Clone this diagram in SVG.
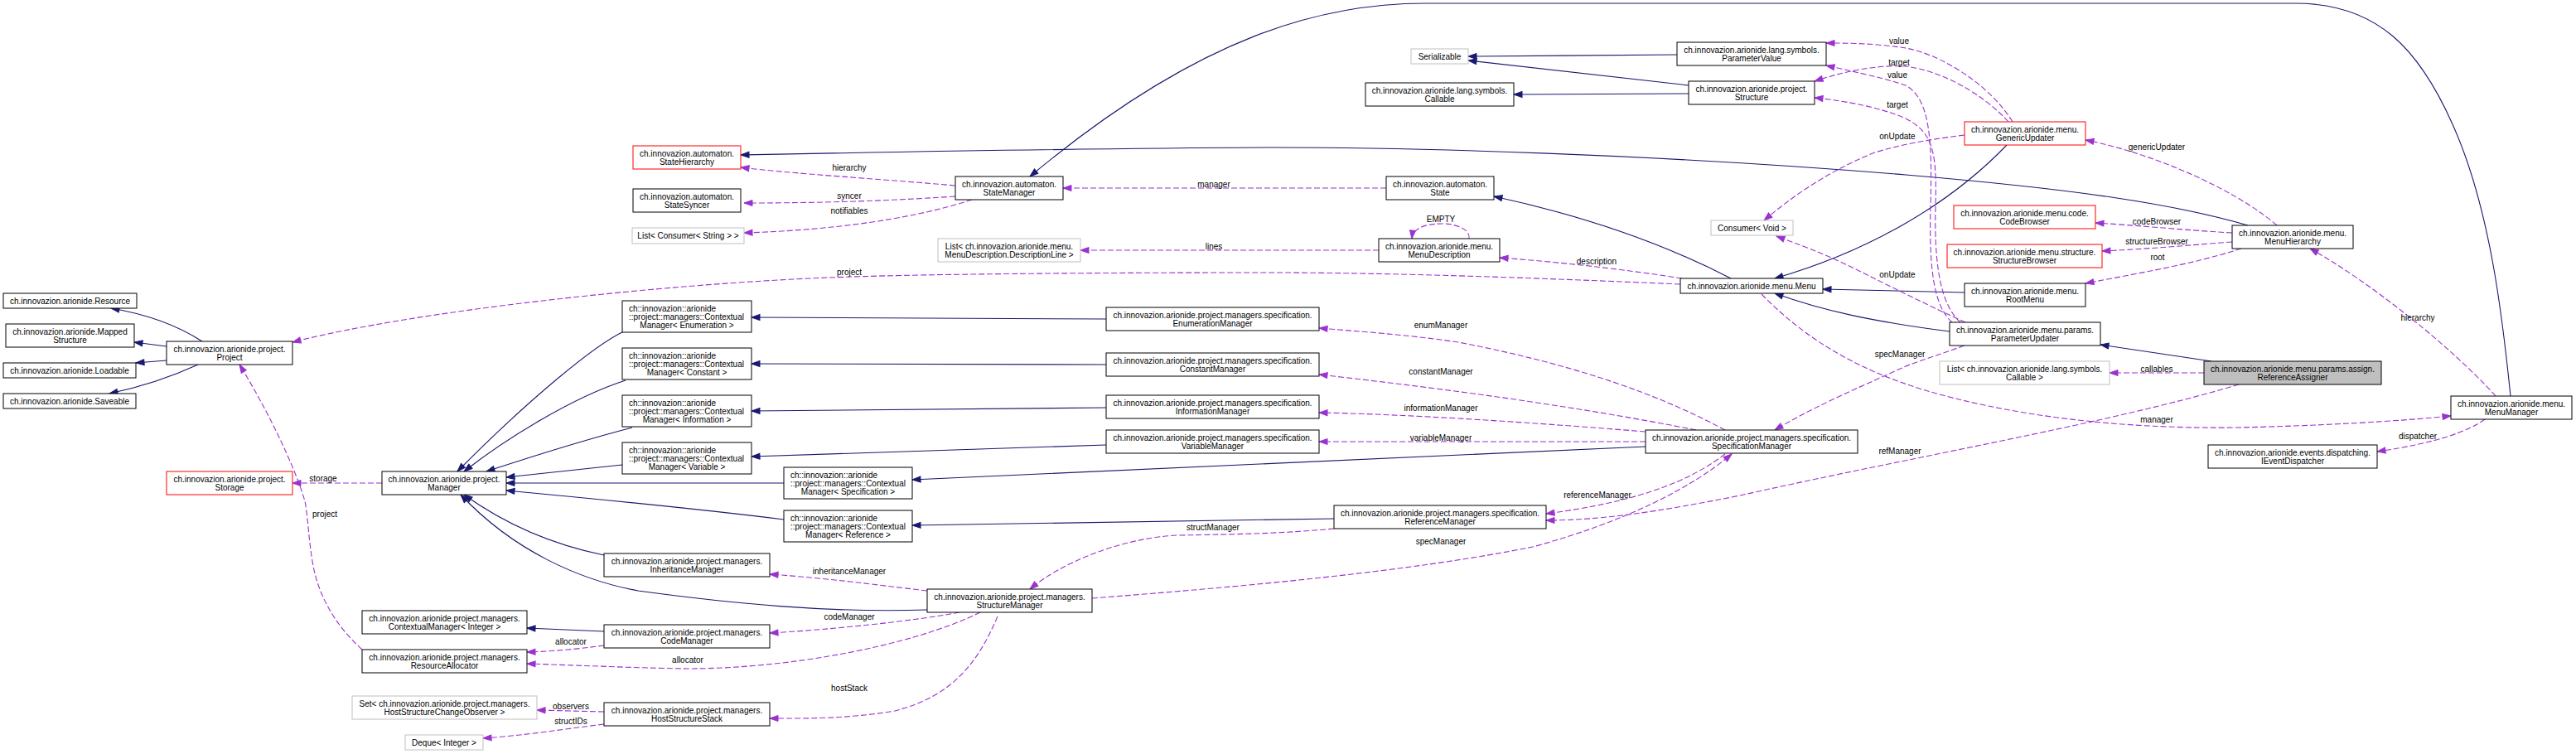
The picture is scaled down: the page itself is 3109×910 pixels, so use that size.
<svg xmlns="http://www.w3.org/2000/svg" width="3109" height="910" viewBox="0 0 3109 910">
<style>
.n rect{fill:#fff;stroke:#000;stroke-width:1}
.n.r rect{stroke:#ff0000}
.n.g rect{stroke:#bfbfbf}
.n.f rect{fill:#bfbfbf;stroke:#000}
text{font-family:"Liberation Sans",Arial,sans-serif;font-size:10px;fill:#000}
.n text{text-anchor:middle}
.n text.l{text-anchor:start}
.e path{fill:none}
.e .s{stroke:#191970;stroke-width:1.1;marker-end:url(#ab)}
.e .d{stroke:#9a32cd;stroke-width:1.1;stroke-dasharray:7,3;marker-end:url(#ap)}
.e text{text-anchor:middle}
</style>
<defs>
<marker id="ab" markerUnits="userSpaceOnUse" markerWidth="12" markerHeight="9" refX="10" refY="3.5" orient="auto" overflow="visible"><path d="M0,0 L10,3.5 L0,7 z" fill="#191970" stroke="#191970"/></marker>
<marker id="ap" markerUnits="userSpaceOnUse" markerWidth="12" markerHeight="9" refX="10" refY="3.5" orient="auto" overflow="visible"><path d="M0,0 L10,3.5 L0,7 z" fill="#9a32cd" stroke="#9a32cd"/></marker>
</defs>
<rect width="3109" height="910" fill="#fff"/>
<g id="edges" class="e">
<path class="s" d="M2024,66 C1950,66 1850,68 1772,68"/>
<path class="s" d="M2038,103 L1772,73"/>
<path class="s" d="M2038,113 L1827,114"/>
<path class="s" d="M3030,478 C3020,380 3005,250 2960,150 C2920,60 2870,4 2770,4 L1720,4 C1600,4 1450,40 1243,213"/>
<path class="s" d="M2089,336 C2000,290 1900,258 1803,237"/>
<path class="s" d="M2422,175 C2350,250 2250,305 2142,336"/>
<path class="s" d="M2713,272 C2620,245 2500,228 2300,211 C2000,186 1700,178 1540,178 C1300,179 1100,183 894,187"/>
<path class="s" d="M2371,353 C2300,351 2250,350 2200,349"/>
<path class="s" d="M2353,400 C2260,388 2200,375 2142,354"/>
<path class="s" d="M2669,436 L2535,416"/>
<path class="s" d="M1335,385 L907,383"/>
<path class="s" d="M1335,440 L907,439"/>
<path class="s" d="M1335,492 L907,496"/>
<path class="s" d="M1335,537 L907,551"/>
<path class="s" d="M1986,539 L1101,579"/>
<path class="s" d="M1610,626 L1101,634"/>
<path class="s" d="M753,400 C720,415 640,480 552,569"/>
<path class="s" d="M755,459 C690,480 610,530 560,569"/>
<path class="s" d="M763,516 C690,535 630,555 587,569"/>
<path class="s" d="M751,561 L611,576"/>
<path class="s" d="M946,583 L611,583"/>
<path class="s" d="M946,627 C850,615 750,605 611,592"/>
<path class="s" d="M729,670 C680,660 620,640 560,597"/>
<path class="s" d="M1119,736 C1000,740 880,728 770,713 C700,700 620,665 556,597"/>
<path class="s" d="M729,762 L636,758"/>
<path class="s" d="M244,412 C210,390 170,378 134,372"/>
<path class="s" d="M201,418 L162,413"/>
<path class="s" d="M201,435 L164,438"/>
<path class="s" d="M239,440 C200,458 165,468 132,475"/>
<path class="d" d="M2660,450 L2546,450"/>
<text x="2603" y="449">callables</text>
<path class="d" d="M2702,464 C2550,510 2300,553 2100,598 C2000,618 1930,628 1866,628"/>
<text x="2293" y="548">refManager</text>
<path class="d" d="M2082,548 C2040,580 1980,605 1866,620"/>
<text x="1928" y="601">referenceManager</text>
<path class="d" d="M1318,722 C1500,708 1700,690 1850,660 C1960,630 2040,590 2090,548"/>
<text x="1739" y="657">specManager</text>
<path class="d" d="M2371,417 C2340,428 2310,438 2300,442 C2250,465 2190,490 2142,519"/>
<text x="2293" y="431">specManager</text>
<path class="d" d="M1673,227 L1283,227"/>
<text x="1465" y="226">manager</text>
<path class="d" d="M1153,224 C1050,215 960,210 894,202"/>
<text x="1025" y="206">hierarchy</text>
<path class="d" d="M1153,237 C1050,244 960,245 898,245"/>
<text x="1025" y="240">syncer</text>
<path class="d" d="M1173,241 C1100,265 1000,278 898,281"/>
<text x="1025" y="258">notifiables</text>
<path class="d" d="M1664,302 L1304,302"/>
<text x="1465" y="301">lines</text>
<path class="d" d="M1773,288 C1775,278 1760,270 1740,270 C1715,270 1705,278 1704,288"/>
<text x="1739" y="268">EMPTY</text>
<path class="d" d="M2030,336 C1960,325 1880,316 1810,311"/>
<text x="1927" y="319">description</text>
<path class="d" d="M2028,343 C1800,333 1650,329 1530,329 C1300,329 1100,331 1000,335 C800,343 500,375 353,413"/>
<text x="1025" y="332">project</text>
<path class="d" d="M2126,355 C2180,410 2240,445 2320,470 C2420,500 2550,518 2700,516 C2800,514 2900,508 2958,502"/>
<text x="2603" y="510">manager</text>
<path class="d" d="M2999,506 C2980,520 2940,535 2869,545"/>
<text x="2918" y="530">dispatcher</text>
<path class="d" d="M3012,478 C2960,420 2860,340 2788,300"/>
<text x="2918" y="387">hierarchy</text>
<path class="d" d="M2705,300 C2650,318 2580,330 2517,342"/>
<text x="2604" y="314">root</text>
<path class="d" d="M2694,292 C2640,296 2600,300 2537,303"/>
<text x="2603" y="295">structureBrowser</text>
<path class="d" d="M2694,281 C2640,278 2580,272 2529,269"/>
<text x="2603" y="271">codeBrowser</text>
<path class="d" d="M2748,272 C2700,230 2600,185 2517,169"/>
<text x="2603" y="181">genericUpdater</text>
<path class="d" d="M2429,147 C2400,100 2340,65 2300,58 C2260,52 2230,52 2204,52"/>
<text x="2292" y="53">value</text>
<path class="d" d="M2424,147 C2390,110 2340,85 2300,80 C2260,78 2220,88 2190,98"/>
<text x="2292" y="79">target</text>
<path class="d" d="M2356,389 C2335,370 2328,330 2330,250 C2332,170 2330,120 2300,103 C2270,93 2230,85 2204,79"/>
<text x="2290" y="94">value</text>
<path class="d" d="M2366,389 C2345,370 2334,330 2336,250 C2338,180 2332,160 2300,143 C2270,130 2230,122 2190,118"/>
<text x="2290" y="130">target</text>
<path class="d" d="M2371,163 C2330,168 2290,175 2260,185 C2200,210 2160,240 2129,266"/>
<text x="2290" y="168">onUpdate</text>
<path class="d" d="M2372,389 C2330,370 2280,345 2240,325 C2200,305 2170,295 2144,285"/>
<text x="2290" y="335">onUpdate</text>
<path class="d" d="M2082,519 C2000,475 1900,440 1760,413 C1700,404 1640,400 1592,396"/>
<text x="1739" y="396">enumManager</text>
<path class="d" d="M2047,519 C1900,490 1750,470 1592,452"/>
<text x="1739" y="452">constantManager</text>
<path class="d" d="M1986,521 C1850,510 1700,500 1592,498"/>
<text x="1739" y="496">informationManager</text>
<path class="d" d="M1986,533 L1592,533"/>
<text x="1739" y="532">variableManager</text>
<path class="d" d="M1119,713 C1050,705 1000,698 929,693"/>
<text x="1025" y="693">inheritanceManager</text>
<path class="d" d="M1158,739 C1100,750 1000,760 929,764"/>
<text x="1025" y="748">codeManager</text>
<path class="d" d="M1183,739 C1100,780 950,807 830,807 C760,806 700,803 636,801"/>
<text x="830" y="800">allocator</text>
<path class="d" d="M1204,744 C1180,800 1150,840 1080,858 C1020,868 970,867 929,867"/>
<text x="1025" y="834">hostStack</text>
<path class="d" d="M1610,638 C1560,643 1500,645 1420,646 C1350,650 1280,680 1243,711"/>
<text x="1464" y="640">structManager</text>
<path class="d" d="M729,779 C700,783 670,786 636,787"/>
<text x="689" y="778">allocator</text>
<path class="d" d="M729,859 L648,857"/>
<text x="689" y="856">observers</text>
<path class="d" d="M729,874 C680,880 630,888 583,891"/>
<text x="689" y="874">structIDs</text>
<path class="d" d="M461,583 L353,583"/>
<text x="390" y="581">storage</text>
<path class="d" d="M437,784 C405,755 385,720 378,683 C372,650 372,625 368,605 C355,560 320,490 289,440"/>
<text x="392" y="624">project</text>
</g>
<g id="StateHierarchy" class="n r"><rect x="764" y="176" width="130" height="28"/><text x="829" y="189">ch.innovazion.automaton.</text><text x="829" y="199">StateHierarchy</text></g>
<g id="StateSyncer" class="n"><rect x="764" y="228" width="130" height="28"/><text x="829" y="241">ch.innovazion.automaton.</text><text x="829" y="251">StateSyncer</text></g>
<g id="ListConsumerString" class="n g"><rect x="763" y="275" width="135" height="19"/><text x="830.5" y="288">List&lt; Consumer&lt; String &gt; &gt;</text></g>
<g id="StateManager" class="n"><rect x="1153" y="213" width="130" height="28"/><text x="1218" y="226">ch.innovazion.automaton.</text><text x="1218" y="236">StateManager</text></g>
<g id="ListDescriptionLine" class="n g"><rect x="1132" y="288" width="172" height="28"/><text x="1218" y="301">List&lt; ch.innovazion.arionide.menu.</text><text x="1218" y="311">MenuDescription.DescriptionLine &gt;</text></g>
<g id="Serializable" class="n g"><rect x="1703" y="59" width="69" height="18"/><text x="1737.5" y="72">Serializable</text></g>
<g id="ParameterValue" class="n"><rect x="2024" y="51" width="180" height="28"/><text x="2114" y="64">ch.innovazion.arionide.lang.symbols.</text><text x="2114" y="74">ParameterValue</text></g>
<g id="Callable" class="n"><rect x="1648" y="100" width="179" height="28"/><text x="1737.5" y="113">ch.innovazion.arionide.lang.symbols.</text><text x="1737.5" y="123">Callable</text></g>
<g id="Structure" class="n"><rect x="2038" y="98" width="152" height="28"/><text x="2114" y="111">ch.innovazion.arionide.project.</text><text x="2114" y="121">Structure</text></g>
<g id="State" class="n"><rect x="1673" y="213" width="130" height="28"/><text x="1738" y="226">ch.innovazion.automaton.</text><text x="1738" y="236">State</text></g>
<g id="ConsumerVoid" class="n g"><rect x="2065" y="266" width="99" height="18"/><text x="2114.5" y="279">Consumer&lt; Void &gt;</text></g>
<g id="MenuDescription" class="n"><rect x="1664" y="288" width="146" height="28"/><text x="1737" y="301">ch.innovazion.arionide.menu.</text><text x="1737" y="311">MenuDescription</text></g>
<g id="GenericUpdater" class="n r"><rect x="2371" y="147" width="146" height="28"/><text x="2444" y="160">ch.innovazion.arionide.menu.</text><text x="2444" y="170">GenericUpdater</text></g>
<g id="CodeBrowser" class="n r"><rect x="2358" y="248" width="171" height="28"/><text x="2443.5" y="261">ch.innovazion.arionide.menu.code.</text><text x="2443.5" y="271">CodeBrowser</text></g>
<g id="MenuHierarchy" class="n"><rect x="2694" y="272" width="146" height="28"/><text x="2767" y="285">ch.innovazion.arionide.menu.</text><text x="2767" y="295">MenuHierarchy</text></g>
<g id="StructureBrowser" class="n r"><rect x="2350" y="295" width="187" height="28"/><text x="2443.5" y="308">ch.innovazion.arionide.menu.structure.</text><text x="2443.5" y="318">StructureBrowser</text></g>
<g id="RootMenu" class="n"><rect x="2371" y="342" width="146" height="28"/><text x="2444" y="355">ch.innovazion.arionide.menu.</text><text x="2444" y="365">RootMenu</text></g>
<g id="ParameterUpdater" class="n"><rect x="2353" y="389" width="182" height="28"/><text x="2444" y="402">ch.innovazion.arionide.menu.params.</text><text x="2444" y="412">ParameterUpdater</text></g>
<g id="ListCallable" class="n g"><rect x="2341" y="436" width="205" height="28"/><text x="2443.5" y="449">List&lt; ch.innovazion.arionide.lang.symbols.</text><text x="2443.5" y="459">Callable &gt;</text></g>
<g id="ReferenceAssigner" class="n f"><rect x="2660" y="436" width="214" height="28"/><text x="2767" y="449">ch.innovazion.arionide.menu.params.assign.</text><text x="2767" y="459">ReferenceAssigner</text></g>
<g id="MenuManager" class="n"><rect x="2958" y="478" width="146" height="28"/><text x="3031" y="491">ch.innovazion.arionide.menu.</text><text x="3031" y="501">MenuManager</text></g>
<g id="IEventDispatcher" class="n"><rect x="2665" y="537" width="204" height="28"/><text x="2767" y="550">ch.innovazion.arionide.events.dispatching.</text><text x="2767" y="560">IEventDispatcher</text></g>
<g id="Menu" class="n"><rect x="2028" y="336" width="172" height="18"/><text x="2114" y="349">ch.innovazion.arionide.menu.Menu</text></g>
<g id="SpecificationManager" class="n"><rect x="1986" y="519" width="256" height="28"/><text x="2114" y="532">ch.innovazion.arionide.project.managers.specification.</text><text x="2114" y="542">SpecificationManager</text></g>
<g id="CMEnumeration" class="n"><rect x="751" y="363" width="156" height="38"/><text class="l" x="759" y="376">ch::innovazion::arionide</text><text class="l" x="759" y="386">::project::managers::Contextual</text><text x="829" y="396">Manager&lt; Enumeration &gt;</text></g>
<g id="CMConstant" class="n"><rect x="751" y="420" width="156" height="38"/><text class="l" x="759" y="433">ch::innovazion::arionide</text><text class="l" x="759" y="443">::project::managers::Contextual</text><text x="829" y="453">Manager&lt; Constant &gt;</text></g>
<g id="CMInformation" class="n"><rect x="751" y="477" width="156" height="38"/><text class="l" x="759" y="490">ch::innovazion::arionide</text><text class="l" x="759" y="500">::project::managers::Contextual</text><text x="829" y="510">Manager&lt; Information &gt;</text></g>
<g id="CMVariable" class="n"><rect x="751" y="534" width="156" height="38"/><text class="l" x="759" y="547">ch::innovazion::arionide</text><text class="l" x="759" y="557">::project::managers::Contextual</text><text x="829" y="567">Manager&lt; Variable &gt;</text></g>
<g id="CMSpecification" class="n"><rect x="946" y="564" width="155" height="38"/><text class="l" x="954" y="577">ch::innovazion::arionide</text><text class="l" x="954" y="587">::project::managers::Contextual</text><text x="1023.5" y="597">Manager&lt; Specification &gt;</text></g>
<g id="CMReference" class="n"><rect x="946" y="616" width="155" height="38"/><text class="l" x="954" y="629">ch::innovazion::arionide</text><text class="l" x="954" y="639">::project::managers::Contextual</text><text x="1023.5" y="649">Manager&lt; Reference &gt;</text></g>
<g id="EnumerationManager" class="n"><rect x="1335" y="371" width="257" height="28"/><text x="1463.5" y="384">ch.innovazion.arionide.project.managers.specification.</text><text x="1463.5" y="394">EnumerationManager</text></g>
<g id="ConstantManager" class="n"><rect x="1335" y="426" width="257" height="28"/><text x="1463.5" y="439">ch.innovazion.arionide.project.managers.specification.</text><text x="1463.5" y="449">ConstantManager</text></g>
<g id="InformationManager" class="n"><rect x="1335" y="477" width="257" height="28"/><text x="1463.5" y="490">ch.innovazion.arionide.project.managers.specification.</text><text x="1463.5" y="500">InformationManager</text></g>
<g id="VariableManager" class="n"><rect x="1335" y="519" width="257" height="28"/><text x="1463.5" y="532">ch.innovazion.arionide.project.managers.specification.</text><text x="1463.5" y="542">VariableManager</text></g>
<g id="Resource" class="n"><rect x="4" y="354" width="161" height="18"/><text x="84.5" y="367">ch.innovazion.arionide.Resource</text></g>
<g id="MappedStructure" class="n"><rect x="7" y="391" width="155" height="28"/><text x="84.5" y="404">ch.innovazion.arionide.Mapped</text><text x="84.5" y="414">Structure</text></g>
<g id="Loadable" class="n"><rect x="4" y="438" width="160" height="18"/><text x="84" y="451">ch.innovazion.arionide.Loadable</text></g>
<g id="Saveable" class="n"><rect x="4" y="475" width="160" height="18"/><text x="84" y="488">ch.innovazion.arionide.Saveable</text></g>
<g id="Project" class="n"><rect x="201" y="412" width="152" height="28"/><text x="277" y="425">ch.innovazion.arionide.project.</text><text x="277" y="435">Project</text></g>
<g id="Storage" class="n r"><rect x="201" y="569" width="152" height="28"/><text x="277" y="582">ch.innovazion.arionide.project.</text><text x="277" y="592">Storage</text></g>
<g id="Manager" class="n"><rect x="461" y="569" width="150" height="28"/><text x="536" y="582">ch.innovazion.arionide.project.</text><text x="536" y="592">Manager</text></g>
<g id="ReferenceManager" class="n"><rect x="1610" y="610" width="256" height="28"/><text x="1738" y="623">ch.innovazion.arionide.project.managers.specification.</text><text x="1738" y="633">ReferenceManager</text></g>
<g id="InheritanceManager" class="n"><rect x="729" y="668" width="200" height="28"/><text x="829" y="681">ch.innovazion.arionide.project.managers.</text><text x="829" y="691">InheritanceManager</text></g>
<g id="StructureManager" class="n"><rect x="1119" y="711" width="199" height="28"/><text x="1218.5" y="724">ch.innovazion.arionide.project.managers.</text><text x="1218.5" y="734">StructureManager</text></g>
<g id="CodeManager" class="n"><rect x="729" y="754" width="200" height="28"/><text x="829" y="767">ch.innovazion.arionide.project.managers.</text><text x="829" y="777">CodeManager</text></g>
<g id="HostStructureStack" class="n"><rect x="729" y="848" width="200" height="28"/><text x="829" y="861">ch.innovazion.arionide.project.managers.</text><text x="829" y="871">HostStructureStack</text></g>
<g id="CMInteger" class="n"><rect x="437" y="737" width="199" height="28"/><text x="536.5" y="750">ch.innovazion.arionide.project.managers.</text><text x="536.5" y="760">ContextualManager&lt; Integer &gt;</text></g>
<g id="ResourceAllocator" class="n"><rect x="437" y="784" width="199" height="28"/><text x="536.5" y="797">ch.innovazion.arionide.project.managers.</text><text x="536.5" y="807">ResourceAllocator</text></g>
<g id="SetObserver" class="n g"><rect x="425" y="840" width="223" height="28"/><text x="536.5" y="853">Set&lt; ch.innovazion.arionide.project.managers.</text><text x="536.5" y="863">HostStructureChangeObserver &gt;</text></g>
<g id="DequeInteger" class="n g"><rect x="489" y="887" width="94" height="18"/><text x="536" y="900">Deque&lt; Integer &gt;</text></g>
</svg>
